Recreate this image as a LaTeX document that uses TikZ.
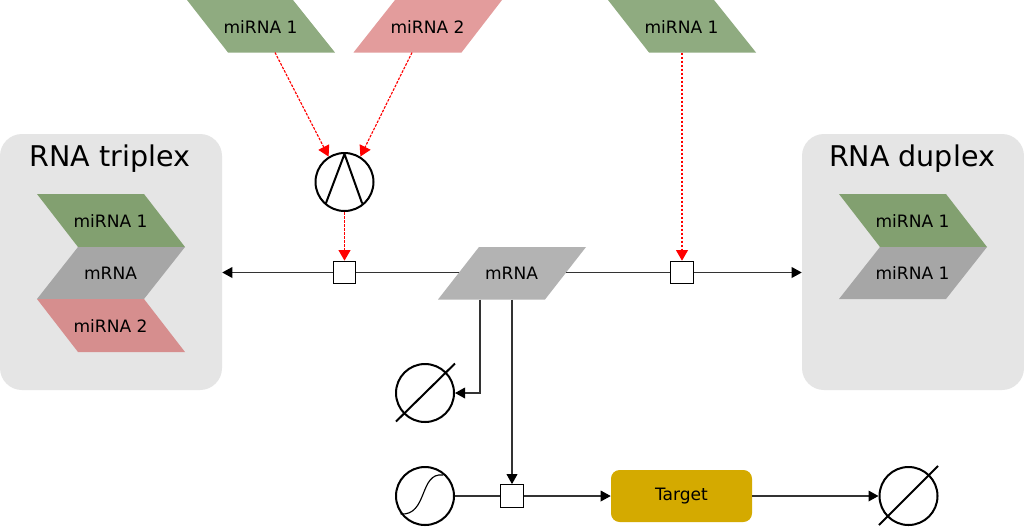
\documentclass[tikz,border=0pt]{standalone}
\usepackage{fontspec}
\setmainfont{DejaVu Sans}
\usetikzlibrary{arrows.meta,calc}
\definecolor{gTop}{HTML}{8FAB80}
\definecolor{rTop}{HTML}{E39C9C}
\definecolor{gMid}{HTML}{B3B3B3}
\definecolor{gIn}{HTML}{82A070}
\definecolor{rIn}{HTML}{D68E8E}
\definecolor{aIn}{HTML}{A6A6A6}
\definecolor{boxBg}{HTML}{E5E5E5}
\definecolor{tgt}{HTML}{D4AA00}
\tikzset{
  lbl/.style={font=\fontsize{12.8}{15}\selectfont,text=black,inner sep=0pt},
  complexbox/.style={fill=boxBg,rounded corners=16.5pt,minimum width=166.5pt,minimum height=192pt,inner sep=0pt},
  complextitle/.style={font=\fontsize{21.4}{25}\selectfont,text=black,inner sep=0pt},
  glyph/.style={circle,draw=black,line width=1.5pt,fill=white,minimum size=43.5pt,inner sep=0pt},
  procbox/.style={rectangle,draw=black,line width=.75pt,fill=white,minimum size=17pt,inner sep=0pt},
  targetbox/.style={rounded corners=6.5pt,fill=tgt,minimum width=105.75pt,minimum height=39pt,inner sep=0pt,font=\fontsize{12.8}{15}\selectfont},
  flow/.style={draw=black!80,line width=1pt,-{Triangle[length=7.5pt,width=8pt,black]}},
  plain/.style={draw=black!80,line width=1pt},
  inhib/.style={draw=red,line width=.85pt,dash pattern=on 2pt off 1pt,-{Triangle[length=8pt,width=9pt,red]}},
  mark line/.style={draw=black,line width=1.5pt,line cap=round,line join=round},
  thin line/.style={draw=black,line width=.85pt}
}
\begin{document}
\begin{tikzpicture}[x=.75pt,y=-.75pt]
\useasboundingbox (0,0) rectangle (1024,526);
\fill[white] (0,0) rectangle (1024,526);
% complexes
\node[complexbox] (triplex) at (111,262) {};
\node[complexbox] (duplex) at (913,262) {};
\node[complextitle] (tt) at (110,159) {RNA triplex};
\node[complextitle] (dt) at (912,159) {RNA duplex};
% triplex content
\fill[gIn] (37,194)--(144,194)--(185,247)--(78,247)--cycle;
\fill[aIn] (78,247)--(185,247)--(144,299)--(37,299)--cycle;
\fill[rIn] (37,299)--(144,299)--(185,352)--(78,352)--cycle;
\node[lbl] (t1) at (110.5,221) {miRNA 1};
\node[lbl] (t2) at (110.5,273) {mRNA};
\node[lbl] (t3) at (110.5,326) {miRNA 2};
% duplex content
\fill[gIn] (839,194)--(946,194)--(987,247)--(880,247)--cycle;
\fill[aIn] (880,247)--(987,247)--(946,299)--(839,299)--cycle;
\node[lbl] (d1) at (912.5,221) {miRNA 1};
\node[lbl] (d2) at (912.5,273) {miRNA 1};
% top species
\fill[gTop] (187,0)--(293,0)--(335,52.5)--(228,52.5)--cycle;
\fill[rTop] (395,0)--(502,0)--(461.5,52.5)--(353.5,52.5)--cycle;
\fill[gTop] (608,0)--(714,0)--(756,52.5)--(649,52.5)--cycle;
\node[lbl] (a) at (260.5,27) {miRNA 1};
\node[lbl] (b) at (427.5,27) {miRNA 2};
\node[lbl] (c) at (681.5,27) {miRNA 1};
\coordinate (ab) at (275,52.5);
\coordinate (bb) at (412,52.5);
\coordinate (cb) at (682,52.5);
% mRNA
\fill[gMid] (479,247)--(586,247)--(545,299.5)--(438,299.5)--cycle;
\node[lbl] (m) at (511.5,273) {mRNA};
\coordinate (mL) at (459,272.5);
\coordinate (mR) at (566,272.5);
\coordinate (mB1) at (480,299.5);
\coordinate (mB2) at (512,299.5);
% glyphs
\node[glyph] (and) at (344.5,182) {};
\draw[mark line] (326,203)--(344.5,154)--(362,203);
\node[procbox] (p1) at (344.5,272.5) {};
\node[procbox] (p2) at (682,272.5) {};
\node[procbox] (p3) at (512,496) {};
\node[glyph] (sink1) at (425,393) {};
\draw[mark line,line cap=butt] (396,421.5)--(455,363.5);
\node[glyph] (src) at (425,496) {};
\draw[thin line] (400.5,514) .. controls (428,516) and (419,472) .. (443,475);
\node[targetbox] (target) at (681.5,496) {Target};
\node[glyph] (sink2) at (908.5,496) {};
\draw[mark line,line cap=butt] (879,525)--(938,466);
% connectors
\draw[inhib] (ab)--(and.122);
\draw[inhib] (bb)--(and.58);
\draw[inhib] (and.south)--(p1.north);
\draw[inhib] (cb)--(p2.north);
\draw[plain] (mL)--(p1.east);
\draw[flow] (p1.west)--(triplex.east|-p1.west);
\draw[plain] (mR)--(p2.west);
\draw[flow] (p2.east)--(duplex.west|-p2.east);
\draw[flow] (mB1)|-(sink1.east);
\draw[flow] (mB2)--(p3.north);
\draw[plain] (src.east)--(p3.west);
\draw[flow] (p3.east)--(target.west);
\draw[flow] (target.east)--(sink2.west);
\end{tikzpicture}
\end{document}
